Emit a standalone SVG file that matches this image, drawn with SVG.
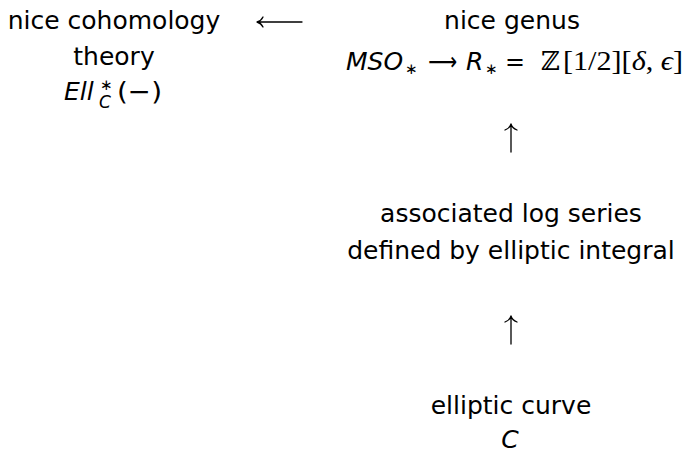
<svg xmlns="http://www.w3.org/2000/svg" width="686" height="455" viewBox="0 0 686 455">
<style>
text{fill:#000;font-family:"DejaVu Sans","Liberation Sans",sans-serif;font-size:25px}
.c{text-anchor:middle}
.it{font-style:oblique}
.sm{font-size:15px}
.sub{font-size:17px;font-style:oblique}
.rm{font-family:"Liberation Serif","DejaVu Serif",serif;font-size:27px}
.arr{fill:none;stroke:#000;stroke-width:1.3;stroke-linecap:round}
</style>
<rect width="686" height="455" fill="#fff"/>
<g id="cohomology">
<text class="c" x="114" y="29">nice cohomology</text>
<text class="c" x="114" y="65">theory</text>
<text class="it" x="64" y="100">Ell</text>
<text class="sm" x="100" y="90">∗</text>
<text class="sub" x="99" y="108">C</text>
<text x="117" y="100" textLength="45" lengthAdjust="spacingAndGlyphs">(−)</text>
</g>
<g id="genus">
<text class="c" x="512" y="29">nice genus</text>
<text class="it" x="346" y="70">MSO</text>
<text class="sm" x="405" y="74">∗</text>
<text x="428" y="70" textLength="29" lengthAdjust="spacingAndGlyphs">⟶</text>
<text class="it" x="466" y="70">R</text>
<text class="sm" x="485" y="74">∗</text>
<text x="505" y="70" textLength="20" lengthAdjust="spacingAndGlyphs">=</text>
<text x="541" y="70" style="font-family:'DejaVu Serif',serif;font-size:26px">ℤ</text>
<text class="rm" x="563" y="70" textLength="120" lengthAdjust="spacingAndGlyphs">[1/2][<tspan font-style="italic">δ</tspan>, <tspan font-style="italic">ϵ</tspan>]</text>
</g>
<g id="logseries">
<text class="c" x="511" y="222">associated log series</text>
<text class="c" x="511" y="259">defined by elliptic integral</text>
</g>
<g id="curve">
<text class="c" x="511" y="414">elliptic curve</text>
<text class="c it" x="510" y="448">C</text>
</g>
<g id="connectors">
<path class="arr" d="M302 22H257M263 17Q261 21 257 22Q261 23 263 27"/>
<path class="arr" d="M511 152V124M505 130Q510 128 511 124Q512 128 517 130"/>
<path class="arr" d="M511 344V316M505 322Q510 320 511 316Q512 320 517 322"/>
</g>
</svg>
